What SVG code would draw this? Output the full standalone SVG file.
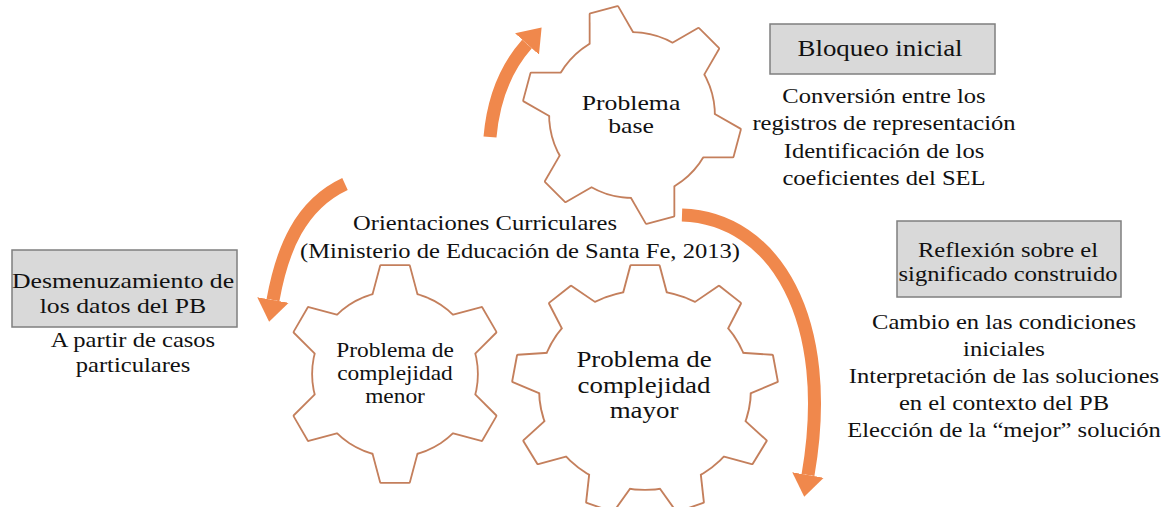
<svg xmlns="http://www.w3.org/2000/svg" width="1167" height="507" viewBox="0 0 1167 507">
<style>
.t{font-family:"Liberation Serif","Tinos","Times New Roman","DejaVu Serif",serif;fill:#111;text-anchor:middle}
.box{fill:#d9d9d9;stroke:#7f7f7f;stroke-width:1.5}
.gs{fill:#fff;stroke:#c47f5c;stroke-width:3.6;stroke-linejoin:round}
.gf{fill:#fff;stroke:none}
.arrow{fill:none;stroke:#f0884c;stroke-width:13}
</style>
<defs>
  <g id="g6">
    <circle r="82"/>
    <polygon id="t6" points="-22,-78 -14,-108 14,-108 22,-78"/>
    <use href="#t6" transform="rotate(60)"/>
    <use href="#t6" transform="rotate(120)"/>
    <use href="#t6" transform="rotate(180)"/>
    <use href="#t6" transform="rotate(240)"/>
    <use href="#t6" transform="rotate(300)"/>
  </g>
  <g id="g9">
    <circle r="99"/>
    <polygon id="t9" points="-20,-96 -13,-124 13,-124 20,-96"/>
    <use href="#t9" transform="rotate(40)"/>
    <use href="#t9" transform="rotate(80)"/>
    <use href="#t9" transform="rotate(120)"/>
    <use href="#t9" transform="rotate(160)"/>
    <use href="#t9" transform="rotate(200)"/>
    <use href="#t9" transform="rotate(240)"/>
    <use href="#t9" transform="rotate(280)"/>
    <use href="#t9" transform="rotate(320)"/>
  </g>
  <marker id="ah" viewBox="0 0 22 32" refX="0" refY="16" markerWidth="22" markerHeight="32" markerUnits="userSpaceOnUse" orient="auto">
    <path d="M0,0 L22,16 L0,32 Z" fill="#f0884c"/>
  </marker>
</defs>

<g id="gear-base">
  <g transform="translate(632,115) rotate(-15)">
    <use href="#g6" class="gs"/>
    <use href="#g6" class="gf"/>
  </g>
  <text class="t" font-size="22" transform="translate(631,0) scale(1.17,1)"><tspan x="0" y="110">Problema</tspan><tspan x="0" y="133">base</tspan></text>
</g>

<g id="gear-menor">
  <g transform="translate(395,374)">
    <use href="#g6" class="gs"/>
    <use href="#g6" class="gf"/>
  </g>
  <text class="t" font-size="20" transform="translate(395,0) scale(1.17,1)"><tspan x="0" y="357">Problema de</tspan><tspan x="0" y="380">complejidad</tspan><tspan x="0" y="403">menor</tspan></text>
</g>

<g id="gear-mayor">
  <g transform="translate(645,390) scale(1.06,1)">
    <use href="#g9" class="gs"/>
    <use href="#g9" class="gf"/>
  </g>
  <text class="t" font-size="23" transform="translate(644,0) scale(1.17,1)"><tspan x="0" y="367">Problema de</tspan><tspan x="0" y="393">complejidad</tspan><tspan x="0" y="418">mayor</tspan></text>
</g>

<g id="orientaciones">
  <text class="t" font-size="21" transform="translate(485,0) scale(1.17,1)" x="0" y="230">Orientaciones Curriculares</text>
  <text class="t" font-size="21" transform="translate(520,0) scale(1.17,1)" x="0" y="258">(Ministerio de Educación de Santa Fe, 2013)</text>
</g>

<g id="bloqueo">
  <rect class="box" x="770" y="24" width="225" height="50"/>
  <text class="t" font-size="23" transform="translate(880,0) scale(1.17,1)" x="0" y="56">Bloqueo inicial</text>
  <text class="t" font-size="21" transform="translate(884,0) scale(1.17,1)"><tspan x="0" y="103">Conversión entre los</tspan><tspan x="0" y="130">registros de representación</tspan><tspan x="0" y="158">Identificación de los</tspan><tspan x="0" y="185">coeficientes del SEL</tspan></text>
</g>

<g id="reflexion">
  <rect class="box" x="897" y="221" width="224" height="76"/>
  <text class="t" font-size="21" transform="translate(1008,0) scale(1.17,1)"><tspan x="0" y="257">Reflexión sobre el</tspan><tspan x="0" y="281">significado construido</tspan></text>
  <text class="t" font-size="21" transform="translate(1004,0) scale(1.17,1)"><tspan x="0" y="329">Cambio en las condiciones</tspan><tspan x="0" y="356">iniciales</tspan><tspan x="0" y="383">Interpretación de las soluciones</tspan><tspan x="0" y="410">en el contexto del PB</tspan><tspan x="0" y="437">Elección de la “mejor” solución</tspan></text>
</g>

<g id="desmenuzamiento">
  <rect class="box" x="12" y="250" width="225" height="77"/>
  <text class="t" font-size="22" transform="translate(123,0) scale(1.17,1)"><tspan x="0" y="288">Desmenuzamiento de</tspan><tspan x="0" y="313">los datos del PB</tspan></text>
  <text class="t" font-size="21" transform="translate(133,0) scale(1.17,1)"><tspan x="0" y="347">A partir de casos</tspan><tspan x="0" y="372">particulares</tspan></text>
</g>

<g id="connectors">
  <path class="arrow" d="M 490 137 Q 495 80 527 44" marker-end="url(#ah)"/>
  <path class="arrow" d="M 345 184 C 300 205, 282 250, 273 300" marker-end="url(#ah)"/>
  <path class="arrow" d="M 682 215 C 775 218, 835 320, 808 475" marker-end="url(#ah)"/>
</g>
</svg>
